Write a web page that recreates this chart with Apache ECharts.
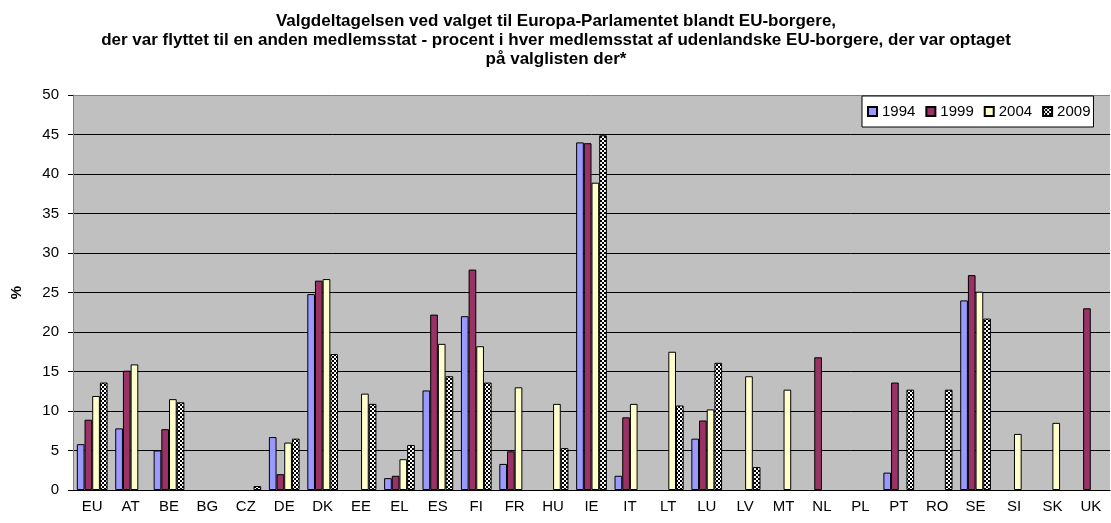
<!DOCTYPE html>
<html>
<head>
<meta charset="utf-8">
<script src="https://cdn.jsdelivr.net/npm/echarts@6/dist/echarts.min.js"></script>
<style>
  html, body { margin: 0; background: #fff; }
  #chart { width: 1111px; height: 523px; }
</style>
</head>
<body>
<div id="chart"></div>
<script>
// lande (kategorier)
const countries = ['EU', 'AT', 'BE', 'BG', 'CZ', 'DE', 'DK', 'EE', 'EL', 'ES', 'FI', 'FR', 'HU', 'IE', 'IT',
  'LT', 'LU', 'LV', 'MT', 'NL', 'PL', 'PT', 'RO', 'SE', 'SI', 'SK', 'UK'];

// valgdeltagelse i procent
const v1994 = [5.8, 7.8, 5.0, null, null, 6.7, 24.8, null, 1.5, 12.6, 22.0, 3.3, null, 44.0, 1.8,
  null, 6.5, null, null, null, null, 2.2, null, 24.0, null, null, null];
const v1999 = [8.9, 15.1, 7.7, null, null, 2.0, 26.5, null, 1.8, 22.2, 27.9, 4.9, null, 43.9, 9.2,
  null, 8.8, null, null, 16.8, null, 13.6, null, 27.2, null, null, 23.0];
const v2004 = [11.9, 15.9, 11.5, null, null, 6.0, 26.7, 12.2, 3.9, 18.5, 18.2, 13.0, 10.9, 38.9, 10.9,
  17.5, 10.2, 14.4, 12.7, null, null, null, null, 25.1, 7.1, 8.5, null];
const v2009 = [13.6, null, 11.1, null, 0.5, 6.5, 17.2, 10.9, 5.7, 14.4, 13.6, null, 5.3, 44.9, null,
  10.7, 16.1, 2.9, null, null, null, 12.7, 12.7, 21.7, null, null, null];

const years = ['1994', '1999', '2004', '2009'];
const yTicks = [0, 5, 10, 15, 20, 25, 30, 35, 40, 45, 50];

const font = 'Liberation Sans, Arial, sans-serif';

// ternet mønster til 2009
const checker = document.createElement('canvas');
checker.width = 4;
checker.height = 4;
const cx = checker.getContext('2d');
cx.fillStyle = '#fff';
cx.fillRect(0, 0, 4, 4);
cx.fillStyle = '#000';
cx.fillRect(0, 0, 2, 2);
cx.fillRect(2, 2, 2, 2);

function bar(name, data, color) {
  return {
    name: name,
    type: 'bar',
    data: data,
    barGap: 0,
    barCategoryGap: '20%',
    itemStyle: { color: color, borderColor: '#000', borderWidth: 1 },
    emphasis: { disabled: true }
  };
}

const chart = echarts.init(document.getElementById('chart'));
chart.setOption({
  animation: false,
  backgroundColor: '#fff',
  title: {
    text: 'Valgdeltagelsen ved valget til Europa-Parlamentet blandt EU-borgere,\n' +
      'der var flyttet til en anden medlemsstat - procent i hver medlemsstat af udenlandske EU-borgere, der var optaget\n' +
      'på valglisten der*',
    left: 556,
    top: 12,
    padding: 0,
    textAlign: 'center',
    textStyle: { fontFamily: font, fontSize: 17, fontWeight: 'bold', color: '#000', lineHeight: 19 }
  },
  legend: {
    data: years,
    left: 862,
    top: 96,
    padding: [8, 3, 8, 5],
    backgroundColor: '#fff',
    borderColor: '#000',
    borderWidth: 1,
    itemWidth: 9,
    itemHeight: 9,
    itemGap: 10,
    icon: 'rect',
    textStyle: { fontFamily: font, fontSize: 15, color: '#000' }
  },
  grid: { left: 73, right: 1, top: 95, bottom: 33, backgroundColor: '#c0c0c0', show: true, borderWidth: 0 },
  xAxis: {
    type: 'category',
    data: countries,
    axisLine: { lineStyle: { color: '#000' } },
    axisTick: { length: 5, lineStyle: { color: '#000' } },
    axisLabel: { fontFamily: font, fontSize: 15, color: '#000', margin: 9, interval: 0 }
  },
  yAxis: {
    type: 'value',
    min: yTicks[0],
    max: yTicks[yTicks.length - 1],
    interval: 5,
    name: '%',
    nameLocation: 'middle',
    nameRotate: 90,
    nameGap: 49,
    nameTextStyle: { fontFamily: font, fontSize: 15, fontWeight: 'bold', color: '#000' },
    axisLine: { show: true, lineStyle: { color: '#808080' } },
    axisTick: { show: true, length: 5, lineStyle: { color: '#000' } },
    axisLabel: { fontFamily: font, fontSize: 15, color: '#000', margin: 14 },
    splitLine: { lineStyle: { color: ['#000', '#000', '#000', '#000', '#000', '#000', '#000', '#000', '#000', '#000', '#808080'], width: 1 } }
  },
  series: [
    bar('1994', v1994, '#9999ff'),
    bar('1999', v1999, '#993366'),
    bar('2004', v2004, '#ffffcc'),
    bar('2009', v2009, { image: checker, repeat: 'repeat' })
  ]
});
</script>
</body>
</html>
